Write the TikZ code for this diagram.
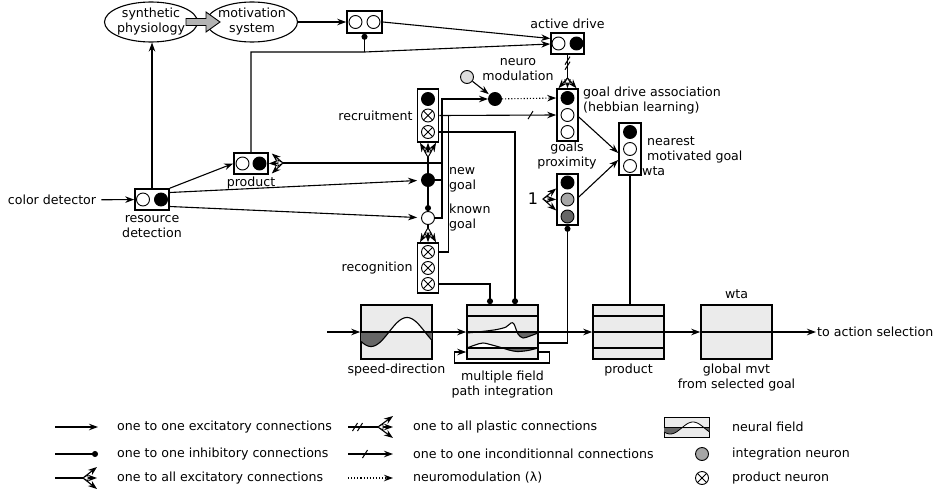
\documentclass[tikz,border=0pt]{standalone}
\usepackage{fontspec}
\setmainfont{DejaVu Sans}
\usetikzlibrary{arrows.meta,positioning,calc,shapes.geometric}
\definecolor{fieldgray}{HTML}{EBEBEB}
\definecolor{dipgray}{HTML}{666666}
\definecolor{intgray}{HTML}{A6A6A6}
\definecolor{deepgray}{HTML}{666666}
\definecolor{srcgray}{HTML}{DDDDDD}
\definecolor{arrowgray}{HTML}{B3B3B3}

\begin{document}
\begin{tikzpicture}[
  x=1pt, y=-1pt,
  font=\fontsize{12.6}{15}\selectfont,
  wire/.style={line width=1.1pt},
  arr/.style={wire, -{Stealth[length=9pt, width=6.5pt]}},
  inh/.style={wire, -{Circle[length=6pt]}},
  modul/.style={wire, dotted, -{Stealth[length=9pt, width=6.5pt]}},
  blob/.style={ellipse, draw, line width=1.1pt, inner sep=0pt,
               minimum width=93pt, minimum height=40pt},
  pairbox/.style={draw, line width=1.6pt, fill=white, inner sep=0pt,
                  minimum width=34pt, minimum height=21pt},
  stackbox/.style={draw, line width=1.6pt, fill=white, inner sep=0pt,
                   minimum width=21pt, minimum height=52pt},
  field/.style={draw, line width=1.6pt, fill=fieldgray, inner sep=0pt,
                minimum width=71pt, minimum height=54pt},
  neur/.style={circle, draw, line width=0.9pt, fill=white, inner sep=0pt,
               minimum size=13pt},
  fired/.style={neur, fill=black},
  integ/.style={neur, fill=#1},
  prodn/.style={neur, path picture={
      \draw[line width=0.8pt]
        (path picture bounding box.north west) -- (path picture bounding box.south east)
        (path picture bounding box.north east) -- (path picture bounding box.south west);}},
  lbl/.style={align=center, inner sep=0pt},
  lbll/.style={align=left, inner sep=0pt},
  fanmark/.pic={\draw[line width=0.8pt, fill=white] (0,0) -- (5,-3) -- (5,3) -- cycle;},
  slashmark/.pic={\draw[line width=1pt] (-2.5,4) -- (2.5,-4);},
]
\useasboundingbox (0,0) rectangle (936,495);

%% ---------- top: physiology, motivation, drive ----------
\node[blob] (synth) at (151,22) {};
\node[lbl] at (synth) {synthetic\\physiology};
\node[blob, minimum width=91pt] (motiv) at (252,22) {};
\node[lbl] at (motiv) {motivation\\system};
\coordinate (ga) at ($(synth.east)!0.5!(motiv.west)$);
\draw[line width=0.9pt, fill=arrowgray] ($(ga)+(-16,-3.5)$) -- ++(20,0) -- ++(0,-6.5)
  -- ++(14,10) -- ++(-14,10) -- ++(0,-6.5) -- ++(-20,0) -- cycle;

\node[pairbox, minimum width=35pt, minimum height=22pt] (mbox) at (364.5,22) {};
\node[neur] (m1) at ([xshift=-9pt]mbox.center) {};
\node[neur] (m2) at ([xshift=9pt]mbox.center) {};

\node[pairbox, minimum width=33pt] (drive) at (567.5,43.5) {};
\node[neur]  (d1) at ([xshift=-9pt]drive.center) {};
\node[fired] (d2) at ([xshift=9pt]drive.center) {};
\node[lbl, above=3pt of drive] {active drive};

%% ---------- goal stacks ----------
\node[stackbox] (gda) at (567.5,115) {};
\node[fired] (g1) at ([yshift=17pt]gda.center) {};
\node[neur]  (g2) at (gda.center) {};
\node[neur]  (g3) at ([yshift=-17pt]gda.center) {};
\node[lbll, anchor=west] at (583,100.5) {goal drive association\\(hebbian learning)};
\node[lbl] at (567,156) {goals\\proximity};

\node[stackbox, minimum height=51pt] (gprox) at (567.5,199.5) {};
\node[fired] (p1) at ([yshift=17pt]gprox.center) {};
\node[integ=intgray]  (p2) at (gprox.center) {};
\node[integ=deepgray] (p3) at ([yshift=-17pt]gprox.center) {};
\node[font=\fontsize{16}{16}\selectfont, inner sep=0pt] (one) at (533,199) {1};

\node[stackbox, minimum width=22pt] (nmg) at (630,149) {};
\node[fired] (n1) at ([yshift=17pt]nmg.center) {};
\node[neur]  (n2) at (nmg.center) {};
\node[neur]  (n3) at ([yshift=-17pt]nmg.center) {};
\node[lbll, anchor=west] at (647,149.5) {nearest\\motivated goal};
\node[lbll, anchor=west] at (642,171) {wta};

%% ---------- recruitment / recognition ----------
\node[stackbox, minimum height=53pt] (recr) at (428,115.5) {};
\node[fired] (r1) at ([yshift=16.5pt]recr.center) {};
\node[prodn] (r2) at (recr.center) {};
\node[prodn] (r3) at ([yshift=-16.5pt]recr.center) {};
\node[lbl, left=4pt of recr] {recruitment};

\node[fired] (newg)  at (428,180) {};
\node[neur]  (known) at (428,218) {};
\node[lbll, anchor=west] at (449,179.5) {new\\goal};
\node[lbll, anchor=west] at (449,218) {known\\goal};

\node[stackbox, minimum height=50pt] (recog) at (428,268) {};
\node[prodn] (c1) at ([yshift=16pt]recog.center) {};
\node[prodn] (c2) at (recog.center) {};
\node[prodn] (c3) at ([yshift=-16pt]recog.center) {};
\node[lbl, left=4pt of recog] {recognition};

\node[integ=srcgray] (nsrc) at (467,77) {};
\node[fired] (nmod) at (495,99) {};
\node[lbl] at (518,70) {neuro\\modulation};

%% ---------- detection ----------
\node[inner sep=2pt] (cdet) at (52,200) {color detector};
\node[pairbox] (resdet) at (152,199.5) {};
\node[neur]  (rd1) at ([xshift=-9pt]resdet.center) {};
\node[fired] (rd2) at ([xshift=9pt]resdet.center) {};
\node[lbl, below=4pt of resdet] {resource\\detection};

\node[pairbox] (prod) at (251,163.5) {};
\node[neur]  (pd1) at ([xshift=-8.5pt]prod.center) {};
\node[fired] (pd2) at ([xshift=8.5pt]prod.center) {};
\node[lbl, below=2pt of prod] {product};

%% ---------- neural fields ----------
\coordinate (inp) at (327,332);
\node[field] (sd) at (396.5,332) {};
\node[field] (pi) at (502.5,332) {};
\node[field] (pf) at (628.5,332) {};
\node[field] (wf) at (736.5,332) {};
\node[lbl, below=4pt of sd] {speed-direction};
\node[lbl, below=11pt of pi] {multiple field\\path integration};
\node[lbl, below=4pt of pf] {product};
\node[lbl, above=5pt of wf] {wta};
\node[lbl, below=4pt of wf] {global mvt\\from selected goal};
\node[anchor=west, inner sep=1pt] (out) at (816,332) {to action selection};

% speed-direction activity
\begin{scope}
  \clip ([shift={(1pt,-1pt)}]sd.north west) rectangle ([shift={(-1pt,1pt)}]sd.south east);
  \fill[white] plot[domain=361:432, samples=60] (\x,{332-14.5*cos(5*(\x-407))}) -- (432,332) -- (361,332) -- cycle;
  \clip (361,332) rectangle (432,360);
  \fill[dipgray] plot[domain=361:432, samples=60] (\x,{332-14.5*cos(5*(\x-407))}) -- (432,332) -- (361,332) -- cycle;
\end{scope}
\begin{scope}
  \clip (sd.south west) rectangle (sd.north east);
  \draw[wire] plot[domain=361:432, samples=60] (\x,{332-14.5*cos(5*(\x-407))});
\end{scope}
\draw[wire] (sd.west) -- (sd.east);

% path integration activity
\begin{scope}
  \clip ([shift={(1pt,-1pt)}]pi.north west) rectangle ([shift={(-1pt,1pt)}]pi.south east);
  \fill[white] plot[smooth, tension=0.5] coordinates {(467,333) (482,331.5) (497,329.5) (506,327) (511,323) (514,324) (518,334) (523,338) (530,336) (538,333)} -- (538,332) -- (467,332) -- cycle;
  \fill[white] plot[smooth, tension=0.5] coordinates {(467,348) (475,345) (483,343) (492,345) (501,347.5) (509,350) (517,351.5) (528,350.5) (538,348)} -- (538,348) -- (467,348) -- cycle;
  \clip (467,332) rectangle (538,340) (467,348) rectangle (538,358);
  \fill[dipgray] plot[smooth, tension=0.5] coordinates {(467,333) (482,331.5) (497,329.5) (506,327) (511,323) (514,324) (518,334) (523,338) (530,336) (538,333)} -- (538,332) -- (467,332) -- cycle;
  \fill[dipgray] plot[smooth, tension=0.5] coordinates {(467,348) (475,345) (483,343) (492,345) (501,347.5) (509,350) (517,351.5) (528,350.5) (538,348)} -- (538,348) -- (467,348) -- cycle;
\end{scope}
\draw[wire] plot[smooth, tension=0.5] coordinates {(467,333) (482,331.5) (497,329.5) (506,327) (511,323) (514,324) (518,334) (523,338) (530,336) (538,333)};
\draw[wire] plot[smooth, tension=0.5] coordinates {(467,348) (475,345) (483,343) (492,345) (501,347.5) (509,350) (517,351.5) (528,350.5) (538,348)};
\draw[wire] ([yshift=16pt]pi.west) -- ([yshift=16pt]pi.east);
\draw[wire] (pi.west) -- (pi.east);
\draw[wire] ([yshift=-16pt]pi.west) -- ([yshift=-16pt]pi.east);

% product and wta fields
\draw[wire] ([yshift=16pt]pf.west) -- ([yshift=16pt]pf.east);
\draw[wire] (pf.west) -- (pf.east);
\draw[wire] ([yshift=-16pt]pf.west) -- ([yshift=-16pt]pf.east);
\draw[wire] (wf.west) -- (wf.east);

%% ---------- connections ----------
\draw[arr, shorten <=3pt] (cdet) -- (resdet);
\draw[arr] (resdet.north) -- (resdet.north |- synth.south);
\draw[arr] (resdet.north east) -- (prod.west);
\draw[arr, shorten >=4pt] ([yshift=7pt]resdet.east) -- (newg);
\draw[arr, shorten >=4pt] ([yshift=-7pt]resdet.east) -- (known);

\draw[arr] (motiv) -- (mbox);
\draw[arr] (mbox.east) -- ([yshift=5pt]drive.west);
\coordinate (pj) at (364.5,52);
\draw[arr] (prod.north) |- (pj) -- ([yshift=-0.5pt]drive.west);
\draw[inh] (pj) -- (mbox.south);

% active drive -> goal drive association (plastic)
\coordinate (dfan) at (567.5,78);
\draw[wire] (drive.south) -- (dfan);
\pic at ($(drive.south)!0.25!(dfan)$) {slashmark};
\pic at ($(drive.south)!0.47!(dfan)$) {slashmark};
\draw[arr] (dfan) -- ([xshift=-9pt]gda.north);
\draw[arr] (dfan) -- (gda.north);
\draw[arr] (dfan) -- ([xshift=9pt]gda.north);
\pic[rotate=-90] at (dfan) {fanmark};

% neuromodulation
\draw[arr, shorten >=1pt] (nsrc) -- (nmod);
\draw[modul] (nmod) -- (gda.west |- g1);

% goal bus
\coordinate (gv) at (442,99);
\draw[arr] (known.east) -| (gv) -- (nmod);
\draw[wire] (newg.east) -- (newg.east -| gv);
\coordinate (pfan) at (283,163);
\draw[wire] (gv |- pfan) -- (pfan);
\draw[arr] (pfan) -- ([shift={(3pt,10pt)}]prod.east);
\draw[arr] (pfan) -- (prod.east);
\draw[arr] (pfan) -- ([shift={(3pt,-10pt)}]prod.east);
\pic[rotate=180] at (pfan) {fanmark};

% new goal -> recruitment, known goal -> recognition
\coordinate (rfan) at (428,157);
\draw[wire] (newg.north) -- (rfan);
\draw[arr] (rfan) -- ([xshift=-8pt]recr.south);
\draw[arr] (rfan) -- (recr.south);
\draw[arr] (rfan) -- ([xshift=8pt]recr.south);
\pic[rotate=90] at (rfan) {fanmark};
\draw[inh] (newg.south) -- (known.north);
\coordinate (cfan) at (428,228);
\draw[wire] (known.south) -- (cfan);
\draw[arr] (cfan) -- ([xshift=-8pt]recog.north);
\draw[arr] (cfan) -- (recog.north);
\draw[arr] (cfan) -- ([xshift=8pt]recog.north);
\pic[rotate=-90] at (cfan) {fanmark};

% product neurons outputs
\draw[arr] (r2 -| recr.east) -- (g2 -| gda.west);
\pic at ($(r2 -| recr.east)!0.78!(g2 -| gda.west)$) {slashmark};
\coordinate (cb) at ($(r2 -| recr.east)+(9,0)$);
\draw[wire] (c1 -| recog.east) -| (cb);
\draw[inh] (r3 -| recr.east) -| ([xshift=12.5pt]pi.north);
\draw[inh] (c3 -| recog.east) -| ([xshift=-12.5pt]pi.north);

% towards the nearest motivated goal
\draw[arr] ([yshift=-2pt]gda.east) -- ([yshift=-4pt]nmg.west);
\draw[arr] ([yshift=2.5pt]gprox.east) -- ([yshift=-11pt]nmg.west);
\coordinate (ofan) at (543,199);
\draw[arr] (ofan) -- ([yshift=11pt]gprox.west);
\draw[arr] (ofan) -- (gprox.west);
\draw[arr] (ofan) -- ([yshift=-11pt]gprox.west);
\pic at (ofan) {fanmark};
\draw[inh] ([yshift=-11pt]pi.east) -| (gprox.south);
\draw[wire] (nmg.south) -- (nmg.south |- pf.north);

% field chain
\draw[arr] (inp) -- (sd.west);
\draw[arr] (sd) -- (pi);
\draw[arr] ([yshift=-20pt]pi.east) -- ++(11,0) -- ++(0,11) -- ++(-95,0) -- ++(0,-11) -- ([yshift=-20pt]pi.west);
\draw[arr] (pi) -- (pf);
\draw[arr] (pf) -- (wf);
\draw[arr] (wf) -- (out.west);

%% ---------- legend ----------
\node[anchor=west, inner sep=0pt] (t1) at (117,427) {one to one excitatory connections};
\node[anchor=west, inner sep=0pt] (t2) at (117,454) {one to one inhibitory connections};
\node[anchor=west, inner sep=0pt] (t3) at (117,478) {one to all excitatory connections};
\draw[arr] ([xshift=-62pt]t1.west) -- ([xshift=-19pt]t1.west);
\draw[inh] ([xshift=-62pt]t2.west) -- ([xshift=-19pt]t2.west);
\coordinate (lf3) at ([xshift=-34pt]t3.west);
\draw[wire] ([xshift=-62pt]t3.west) -- (lf3);
\draw[arr] (lf3) -- ([shift={(-20pt,11pt)}]t3.west);
\draw[arr] (lf3) -- ([xshift=-20pt]t3.west);
\draw[arr] (lf3) -- ([shift={(-20pt,-11pt)}]t3.west);
\pic at (lf3) {fanmark};

\node[anchor=west, inner sep=0pt] (u1) at (413,427) {one to all plastic connections};
\node[anchor=west, inner sep=0pt] (u2) at (413,454) {one to one inconditionnal connections};
\node[anchor=west, inner sep=0pt] (u3) at (413,478) {neuromodulation (λ)};
\coordinate (lf1) at ([xshift=-35pt]u1.west);
\draw[wire] ([xshift=-65pt]u1.west) -- (lf1);
\pic at ([xshift=-58pt]u1.west) {slashmark};
\pic at ([xshift=-53pt]u1.west) {slashmark};
\draw[arr] (lf1) -- ([shift={(-20pt,11pt)}]u1.west);
\draw[arr] (lf1) -- ([xshift=-20pt]u1.west);
\draw[arr] (lf1) -- ([shift={(-20pt,-11pt)}]u1.west);
\pic at (lf1) {fanmark};
\draw[arr] ([xshift=-65pt]u2.west) -- ([xshift=-20pt]u2.west);
\pic at ([xshift=-48pt]u2.west) {slashmark};
\draw[modul] ([xshift=-65pt]u3.west) -- ([xshift=-20pt]u3.west);

\node[anchor=west, inner sep=0pt] (v1) at (732,427) {neural field};
\node[anchor=west, inner sep=0pt] (v2) at (732,454) {integration neuron};
\node[anchor=west, inner sep=0pt] (v3) at (732,478) {product neuron};
\node[field, line width=1pt, minimum width=45pt, minimum height=20pt] (ficon) at ([xshift=-45.5pt]v1.west) {};
\begin{scope}
  \clip ([shift={(0.5pt,-0.5pt)}]ficon.north west) rectangle ([shift={(-0.5pt,0.5pt)}]ficon.south east);
  \fill[white] plot[domain=664:709, samples=40] (\x,{428-6*cos(7.9*(\x-693))}) -- (709,428) -- (664,428) -- cycle;
  \clip (664,428) rectangle (709,440);
  \fill[dipgray] plot[domain=664:709, samples=40] (\x,{428-6*cos(7.9*(\x-693))}) -- (709,428) -- (664,428) -- cycle;
\end{scope}
\draw[line width=0.8pt] plot[domain=664:709, samples=40] (\x,{428-6*cos(7.9*(\x-693))});
\draw[line width=0.8pt] (ficon.west) -- (ficon.east);
\node[integ=intgray] (lint) at ([xshift=-30pt]v2.west) {};
\node[prodn] (lprod) at ([xshift=-30pt]v3.west) {};

\end{tikzpicture}
\end{document}
